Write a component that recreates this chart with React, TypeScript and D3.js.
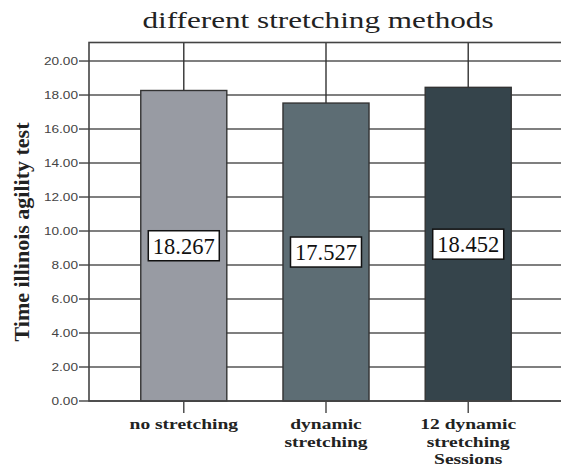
import React from "react";
import * as d3 from "d3";

const categories = ["no stretching", "dynamic stretching", "12 dynamic stretching Sessions"];
const categoryLines = [["no stretching"], ["dynamic", "stretching"], ["12 dynamic", "stretching", "Sessions"]];
const values = [18.267, 17.527, 18.452];
const errorUpper = [22.5, 22.5, 22.5];
const valueLabels = ["18.267", "17.527", "18.452"];
const barColors = ["#989ba3", "#5d6d74", "#35444b"];
const yTicks = [0, 2, 4, 6, 8, 10, 12, 14, 16, 18, 20];
const yTickLabels = ["0.00", "2.00", "4.00", "6.00", "8.00", "10.00", "12.00", "14.00", "16.00", "18.00", "20.00"];
const title = "different stretching methods";
const yTitle = "Time illinois agility test";

const W = 561;
const H = 468;
const M = { left: 89, right: 563, top: 42.5, bottom: 401 };
const SX = 1.3;

export default function App() {
  const x = d3
    .scaleBand<string>()
    .domain(categories)
    .range([M.left, M.right])
    .paddingInner(0.395)
    .paddingOuter(0.364);
  const y = d3.scaleLinear().domain([0, 21.09]).range([M.bottom, M.top]);
  const bw = x.bandwidth();
  const serif = "'Liberation Serif', 'Times New Roman', serif";
  const sans = "'Liberation Sans', Arial, sans-serif";

  return (
    <svg
      width={W}
      height={H}
      style={{ position: "absolute", left: 0, top: 0, background: "#fff" }}
    >
      <defs>
        <clipPath id="plotclip">
          <rect x={M.left} y={M.top} width={M.right - M.left} height={M.bottom - M.top} />
        </clipPath>
      </defs>
      <rect x={0} y={0} width={W} height={H} fill="#fff" />
      {/* title */}
      <text
        transform={`translate(318,28) scale(${SX},1)`}
        textAnchor="middle"
        fontFamily={serif}
        fontSize={24}
        fill="#222"
      >
        {title}
      </text>
      {/* gridlines */}
      {yTicks.map((t) => (
        <line
          key={"g" + t}
          x1={M.left}
          x2={M.right}
          y1={y(t)}
          y2={y(t)}
          stroke="#555"
          strokeWidth={1.4}
        />
      ))}
      {/* error bars */}
      <g clipPath="url(#plotclip)">
        {categories.map((c, i) => (
          <line
            key={"e" + c}
            x1={x(c)! + bw / 2}
            x2={x(c)! + bw / 2}
            y1={y(values[i])}
            y2={y(errorUpper[i])}
            stroke="#333"
            strokeWidth={1.4}
          />
        ))}
      </g>
      {/* bars */}
      {categories.map((c, i) => (
        <rect
          key={"b" + c}
          x={x(c)!}
          y={y(values[i])}
          width={bw}
          height={y(0) - y(values[i])}
          fill={barColors[i]}
          stroke="#333"
          strokeWidth={1.4}
        />
      ))}
      {/* frame */}
      <rect
        x={M.left}
        y={M.top}
        width={M.right - M.left}
        height={M.bottom - M.top}
        fill="none"
        stroke="#444"
        strokeWidth={1.6}
      />
      {/* y ticks */}
      {yTicks.map((t, i) => (
        <g key={"t" + t}>
          <line x1={M.left - 10} x2={M.left} y1={y(t)} y2={y(t)} stroke="#444" strokeWidth={1.4} />
          <text
            transform={`translate(${M.left - 11},${y(t) + 4}) scale(${SX},1)`}
            textAnchor="end"
            fontFamily={sans}
            fontSize={10.5}
            fill="#444"
          >
            {yTickLabels[i]}
          </text>
        </g>
      ))}
      {/* x ticks and labels */}
      {categories.map((c, i) => (
        <g key={"x" + c}>
          <line
            x1={x(c)! + bw / 2}
            x2={x(c)! + bw / 2}
            y1={M.bottom}
            y2={M.bottom + 12}
            stroke="#444"
            strokeWidth={1.4}
          />
          {categoryLines[i].map((ln, j) => (
            <text
              key={ln}
              transform={`translate(${x(c)! + bw / 2},${429 + j * 17.5}) scale(${SX},1)`}
              textAnchor="middle"
              fontFamily={serif}
              fontWeight="bold"
              fontSize={15}
              fill="#222"
            >
              {ln}
            </text>
          ))}
        </g>
      ))}
      {/* value labels */}
      {categories.map((c, i) => {
        const cx = x(c)! + bw / 2;
        const cy = y(values[i] / 2);
        return (
          <g key={"v" + c}>
            <rect x={cx - 35.5} y={cy - 15} width={71} height={30} fill="#fff" stroke="#111" strokeWidth={1.5} />
            <text
              x={cx}
              y={cy + 8}
              textAnchor="middle"
              fontFamily={serif}
              fontSize={22.5}
              fill="#111"
            >
              {valueLabels[i]}
            </text>
          </g>
        );
      })}
      {/* y title */}
      <text
        transform={`translate(28.5,232) rotate(-90)`}
        textAnchor="middle"
        fontFamily={serif}
        fontWeight="bold"
        fontSize={22}
        fill="#222"
      >
        {yTitle}
      </text>
    </svg>
  );
}
